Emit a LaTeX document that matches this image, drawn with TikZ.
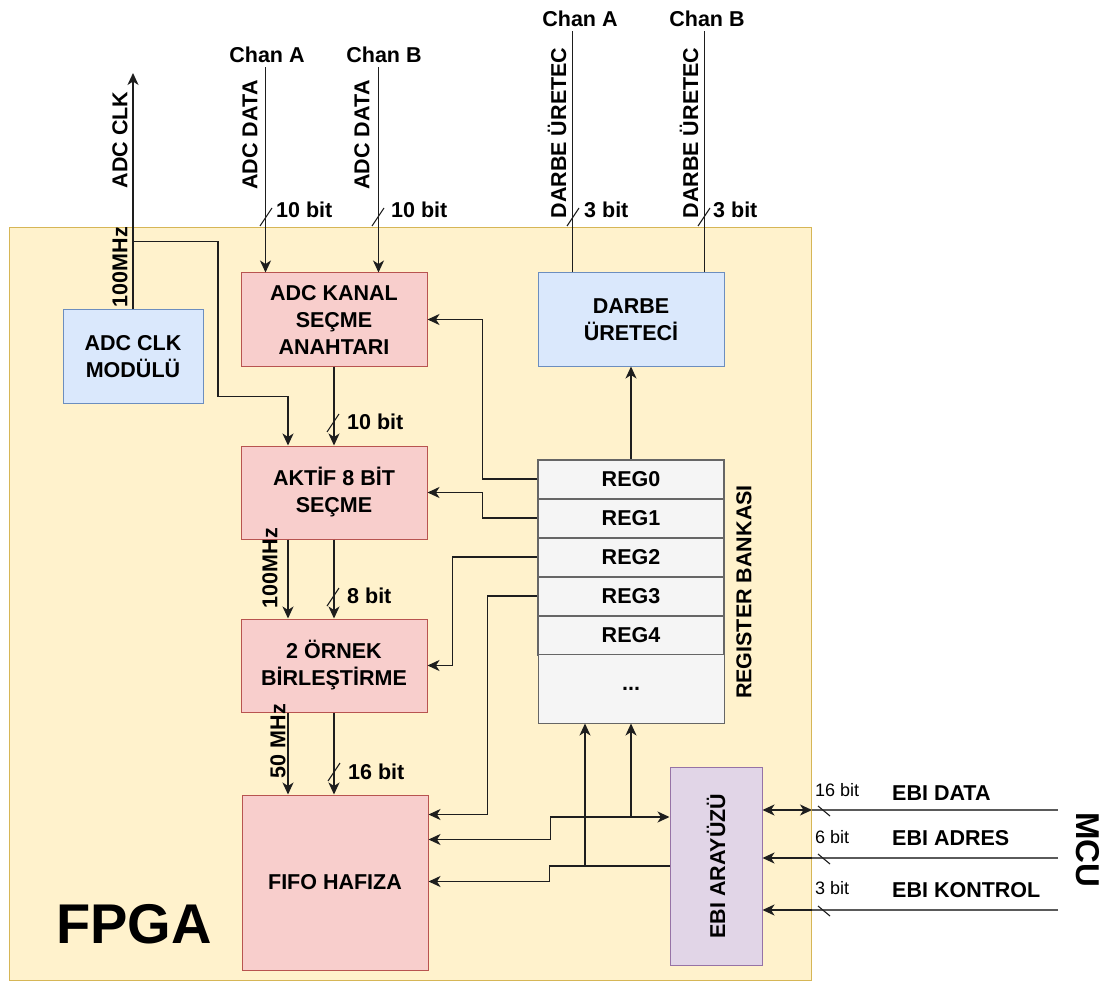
\documentclass[tikz,border=0pt]{standalone}
\usepackage{fontspec}
\setmainfont{Liberation Sans}
\usepackage{xcolor}
\usepackage{tikz}
\usetikzlibrary{arrows.meta,positioning}
\definecolor{fpgafill}{HTML}{FFF2CC}
\definecolor{fpgaline}{HTML}{D6B656}
\definecolor{redfill}{HTML}{F8CECC}
\definecolor{redline}{HTML}{B85450}
\definecolor{bluefill}{HTML}{DAE8FC}
\definecolor{blueline}{HTML}{6C8EBF}
\definecolor{purplefill}{HTML}{E1D5E7}
\definecolor{purpleline}{HTML}{9673A6}
\definecolor{regfill}{HTML}{F5F5F5}
\definecolor{regline}{HTML}{666666}
\definecolor{wiregray}{HTML}{1E1E1E}
\definecolor{extgray}{HTML}{5A5A5A}
\newcommand{\blockfont}{\fontsize{21.5}{27}\selectfont\bfseries}
\newcommand{\smallbitfont}{\fontsize{18}{21}\selectfont}
\newcommand{\fpgafont}{\fontsize{56}{60}\selectfont\bfseries}
\newcommand{\mcufont}{\fontsize{33}{36}\selectfont\bfseries}
\tikzset{
  fpgabox/.style={draw=fpgaline, fill=fpgafill, line width=1pt, anchor=north west, inner sep=0pt, minimum width=802pt, minimum height=753pt},
  module/.style={draw=redline, fill=redfill, line width=1pt, align=center, font=\blockfont, minimum width=186pt, minimum height=93pt, inner sep=0pt},
  ctrlmodule/.style={module, draw=blueline, fill=bluefill},
  ebibox/.style={draw=purpleline, fill=purplefill, line width=1pt, minimum width=92pt, minimum height=198pt, inner sep=0pt},
  regcell/.style={draw=regline, fill=regfill, line width=2pt, font=\blockfont, minimum width=186pt, minimum height=39pt, inner sep=0pt},
  regrest/.style={regcell, line width=1pt, minimum height=68.5pt},
  lbl/.style={font=\blockfont, inner sep=0pt, text=black},
  vlbl/.style={lbl, rotate=90},
  chanlbl/.style={lbl, inner sep=4pt},
  bitlbl/.style={font=\smallbitfont, inner sep=0pt, anchor=west},
  arrow/.style={-{Stealth[length=12pt, width=11pt, inset=3.5pt]}, line width=1.6pt, draw=wiregray},
  biarrow/.style={{Stealth[length=12pt, width=11pt, inset=3.5pt]}-{Stealth[length=12pt, width=11pt, inset=3.5pt]}, line width=1.6pt, draw=wiregray},
  wireline/.style={line width=1.6pt, draw=wiregray},
  extline/.style={line width=1.6pt, draw=extgray},
  bitslash/.pic={\draw[line width=1.1pt, wiregray] (-6pt,-9pt) -- (6pt,9pt);},
  bitslashdown/.pic={\draw[line width=1.1pt, wiregray] (-6pt,5pt) -- (6pt,-5pt);}
}
\begin{document}
\begin{tikzpicture}[x=1pt, y=-1pt]
  \useasboundingbox (0,0) rectangle (1105,981);
  \node[fpgabox] (fpga) at (9,227) {};
  \node[lbl, font=\fpgafont] (fpgalbl) at (134,924) {FPGA};

  % blocks
  \node[ctrlmodule, minimum width=140pt] (clkmod) at (133,356.5) {ADC CLK\\MODÜLÜ};
  \node[module] (adckanal) at (334,319.5) {ADC KANAL\\SEÇME\\ANAHTARI};
  \node[module] (aktif) at (334,492.5) {AKTİF 8 BİT\\SEÇME};
  \node[module] (ornek) at (334,665.5) {2 ÖRNEK\\BİRLEŞTİRME};
  \node[module, minimum height=175pt] (fifo) at (335,882.5) {FIFO HAFIZA};
  \node[ctrlmodule] (darbe) at (631,319.5) {DARBE\\ÜRETECİ};
  \node[ebibox, label={[vlbl]center:EBI ARAYÜZÜ}] (ebi) at (716,866) {};

  % register bank
  \node[regcell] (reg0) at (631,479) {REG0};
  \node[regcell] (reg1) at (631,518) {REG1};
  \node[regcell] (reg2) at (631,557) {REG2};
  \node[regcell] (reg3) at (631,596) {REG3};
  \node[regcell] (reg4) at (631,635) {REG4};
  \node[regrest] (regmore) at (631,688.75) {...};
  \node[vlbl] (regbanklbl) at (744,592) {REGISTER BANKASI};

  % outside labels
  \node[chanlbl] (chana) at (267,55) {Chan A};
  \node[chanlbl] (chanb) at (384,55) {Chan B};
  \node[chanlbl] (chanc) at (580,19) {Chan A};
  \node[chanlbl] (chand) at (707,19) {Chan B};
  \node[vlbl] (clklbl) at (120,140) {ADC CLK};
  \node[vlbl] (clkfreq) at (120,267) {100MHz};
  \node[vlbl] (adcdataa) at (250,135) {ADC DATA};
  \node[vlbl] (adcdatab) at (362,135) {ADC DATA};
  \node[vlbl] (darbelbla) at (557,133) {DARBE ÜRETEC};
  \node[vlbl] (darbelblb) at (689,133) {DARBE ÜRETEC};
  \node[vlbl] (aktiffreq) at (270,568) {100MHz};
  \node[vlbl] (ornekfreq) at (278,741) {50 MHz};
  \node[lbl, anchor=west] (bitadca) at (276,210) {10 bit};
  \node[lbl, anchor=west] (bitadcb) at (391,210) {10 bit};
  \node[lbl, anchor=west] (bitdarbea) at (584,210) {3 bit};
  \node[lbl, anchor=west] (bitdarbeb) at (713,210) {3 bit};
  \node[lbl, anchor=west] (bitkanal) at (347,422) {10 bit};
  \node[lbl, anchor=west] (bitaktif) at (347,596) {8 bit};
  \node[lbl, anchor=west] (bitornek) at (348,772) {16 bit};

  % MCU side
  \node[bitlbl] (bitdata) at (815,790) {16 bit};
  \node[bitlbl] (bitadres) at (815,837) {6 bit};
  \node[bitlbl] (bitkontrol) at (815,888) {3 bit};
  \node[lbl, anchor=west] (ebidata) at (892,793) {EBI DATA};
  \node[lbl, anchor=west] (ebiadres) at (892,838) {EBI ADRES};
  \node[lbl, anchor=west] (ebikontrol) at (892,890) {EBI KONTROL};
  \node[lbl, font=\mcufont, rotate=-90] (mcu) at (1088,850) {MCU};

  \coordinate (clkout) at (133,73);
  \coordinate (adcina) at ([xshift=25pt]adckanal.north west);
  \coordinate (adcinb) at ([xshift=-49pt]adckanal.north east);
  \coordinate (darbea) at ([xshift=35pt]darbe.north west);
  \coordinate (darbeb) at ([xshift=-20pt]darbe.north east);
  \coordinate (ebiin) at ([yshift=49pt]ebi.west);
  \coordinate (regina) at ([xshift=-46pt]regmore.south);
  \coordinate (mcudata) at (1058,810);
  \coordinate (mcuadres) at (1058,858);
  \coordinate (mcukontrol) at (1058,910);

  % clock
  \draw[arrow] (clkmod.north) -- (clkout);
  \draw[arrow] ([yshift=68pt]clkmod.north) -- ++(85pt,0) |- ([xshift=-46pt,yshift=49pt]aktif.north) -- ([xshift=-46pt]aktif.north);
  \draw[arrow] ([xshift=-46pt]aktif.south) -- ([xshift=-46pt]ornek.north);
  \draw[arrow] ([xshift=-46pt]ornek.south) -- ([xshift=-47pt]fifo.north);

  % data path
  \draw[arrow] (chana.south -| adcina) -- (adcina);
  \draw[arrow] (chanb.south -| adcinb) -- (adcinb);
  \draw[wireline] (chanc.south -| darbea) -- (darbea);
  \draw[wireline] (chand.south -| darbeb) -- (darbeb);
  \draw[arrow] (adckanal.south) -- (aktif.north);
  \draw[arrow] (aktif.south) -- (ornek.north);
  \draw[arrow] (ornek.south) -- (ornek.south |- fifo.north);
  \pic at (266,217) {bitslash};
  \pic at (378,217) {bitslash};
  \pic at (573,217) {bitslash};
  \pic at (704,217) {bitslash};
  \pic at (333,423) {bitslash};
  \pic at (333,597) {bitslash};
  \pic at (334,772) {bitslash};

  % registers
  \draw[arrow] (reg0.north) -- (darbe.south);
  \draw[arrow] (reg0.west) -| ([xshift=55pt]adckanal.east) -- (adckanal.east);
  \draw[arrow] (reg1.west) -| ([xshift=55pt]aktif.east) -- (aktif.east);
  \draw[arrow] (reg2.west) -| ([xshift=25pt]ornek.east) -- (ornek.east);
  \draw[arrow] (reg3.west) -| ([xshift=59pt,yshift=-20pt]fifo.north east) -- ([yshift=-20pt]fifo.north east);

  % EBI
  \draw[biarrow] ([yshift=-45pt]fifo.north east) -- ++(122pt,0) |- (ebiin);
  \draw[arrow] (ebiin -| regmore.south) -- (regmore.south);
  \draw[arrow] (ebi.west) -- ++(-120pt,0) |- ([yshift=-87pt]fifo.north east);
  \draw[arrow] (ebi.west -| regina) -- (regina);
  \draw[biarrow] (ebi.east |- mcudata) -- (fpga.east |- mcudata);
  \draw[extline] (fpga.east |- mcudata) -- (mcudata);
  \draw[extline] (mcuadres) -- (fpga.east |- mcuadres);
  \draw[arrow] (fpga.east |- mcuadres) -- (ebi.east |- mcuadres);
  \draw[extline] (mcukontrol) -- (fpga.east |- mcukontrol);
  \draw[arrow] (fpga.east |- mcukontrol) -- (ebi.east |- mcukontrol);
  \pic at (824,811) {bitslashdown};
  \pic at (824,859) {bitslashdown};
  \pic at (824,911) {bitslashdown};
\end{tikzpicture}
\end{document}
